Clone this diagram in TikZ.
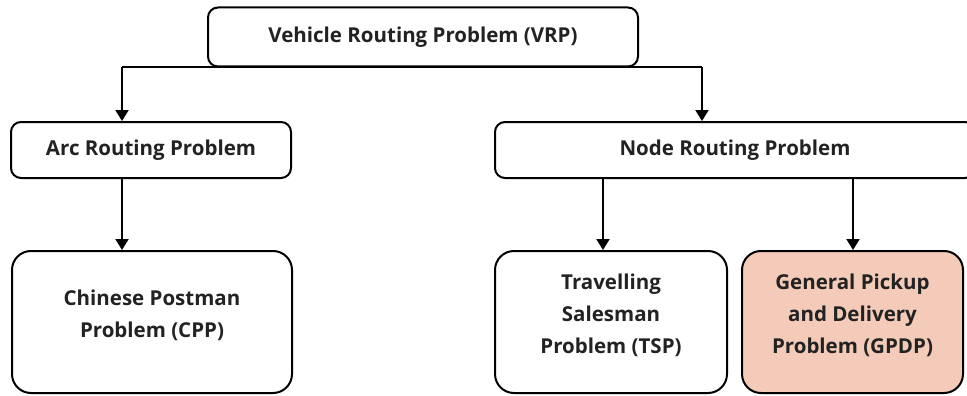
\documentclass[tikz,border=0pt]{standalone}
\usepackage{fontspec}
\setmainfont{Open Sans}
\usetikzlibrary{arrows.meta,calc}
\definecolor{peach}{HTML}{F4CBB9}
\definecolor{ink}{HTML}{222222}
\tikzset{
  label text/.style={align=center, inner sep=0pt,
    font=\fontsize{20.5}{32}\selectfont\bfseries, text=ink},
  box/.style={label text, draw=black, line width=2pt, rounded corners=10pt},
  bigbox/.style={draw=black, line width=2pt, rounded corners=19pt, inner sep=0pt},
  arr/.style={line width=2pt, -{Triangle[length=11pt,width=13pt]}}
}
\begin{document}
\begin{tikzpicture}[x=1pt,y=-1pt]
\useasboundingbox (0,0) rectangle (967,396);
\clip (0,0) rectangle (967,396);
% upper level boxes
\node[box, minimum width=430pt, minimum height=59pt] (vrp) at (423,37) {Vehicle Routing Problem (VRP)};
\node[box, minimum width=280pt, minimum height=56pt] (arc) at (151,150) {Arc Routing Problem};
\node[box, minimum width=480pt, minimum height=56pt] (nrp) at (735,150) {Node Routing Problem};
% lower level boxes, text set a little above the middle
\node[bigbox, minimum width=280pt, minimum height=142pt] (cpp) at (152,322) {};
\node[label text] (cppt) at (152,315) {Chinese Postman\\Problem (CPP)};
\node[bigbox, minimum width=232pt, minimum height=142pt] (tsp) at (611,322) {};
\node[label text] (tspt) at (611,315) {Travelling\\Salesman\\Problem (TSP)};
\node[bigbox, fill=peach, minimum width=221pt, minimum height=142pt] (gpdp) at (852.5,322) {};
\node[label text] (gpdpt) at (852.5,315) {General Pickup\\and Delivery\\Problem (GPDP)};
% branch points of the connectors
\coordinate (jl) at (122,67);
\coordinate (jr) at (702,67);
\coordinate (ja) at (122,177);
\coordinate (jt) at (603,178);
\coordinate (jg) at (853,178);
\draw[line width=2pt] (jl) -- (jr);
\draw[arr] (jl) -- (jl |- arc.north);
\draw[arr] (jr) -- (jr |- nrp.north);
\draw[arr] (ja) -- (ja |- cpp.north);
\draw[arr] (jt) -- (jt |- tsp.north);
\draw[arr] (jg) -- (jg |- gpdp.north);
\end{tikzpicture}
\end{document}
